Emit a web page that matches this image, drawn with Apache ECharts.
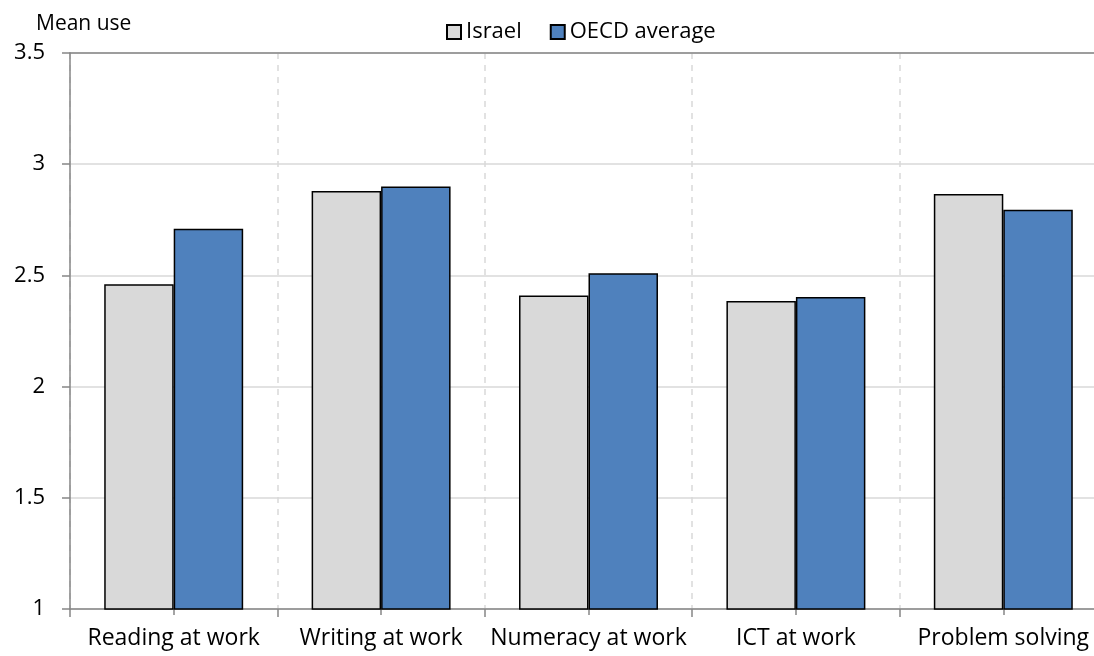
<!DOCTYPE html>
<html>
<head>
<meta charset="utf-8">
<script src="https://cdn.jsdelivr.net/npm/echarts@6/dist/echarts.min.js"></script>
<style>
html,body{margin:0;padding:0;background:#fff;overflow:hidden;}
#chart{width:1110px;height:656px;}
</style>
</head>
<body>
<div id="chart"></div>
<script>
var categories = ['Reading at work', 'Writing at work', 'Numeracy at work', 'ICT at work', 'Problem solving'];
var israel = [2.46, 2.88, 2.41, 2.385, 2.866];
var oecd = [2.71, 2.90, 2.51, 2.403, 2.795];
var yTicks = [1, 1.5, 2, 2.5, 3, 3.5];
var seriesNames = ['Israel', 'OECD average'];

var FONT = '"Open Sans", Lato, sans-serif';
var chart = echarts.init(document.getElementById('chart'), null, {renderer: 'canvas'});
chart.setOption({
  animation: false,
  textStyle: {fontFamily: FONT},
  title: {
    text: 'Mean use', left: 36, top: 14, padding: 0,
    textStyle: {fontFamily: FONT, fontSize: 21, fontWeight: 'normal', color: '#000'}
  },
  legend: {
    top: 21, left: 446, padding: 0,
    data: seriesNames,
    itemWidth: 14, itemHeight: 14, itemGap: 28,
    icon: 'rect',
    textStyle: {fontFamily: FONT, fontSize: 22, color: '#000'}
  },
  grid: {left: 70, right: 3, top: 53, bottom: 47, containLabel: false},
  xAxis: [
    {
      type: 'category', data: categories, position: 'bottom',
      axisLine: {show: true, lineStyle: {color: '#868686', width: 1.5}},
      axisTick: {show: true, interval: 0, length: 8, lineStyle: {color: '#868686', width: 1.5}},
      axisLabel: {interval: 0, fontFamily: FONT, fontSize: 23, color: '#000', margin: 18},
      splitLine: {show: true, interval: 0, lineStyle: {color: '#d9d9d9', type: [6, 6], width: 1.5}}
    },
    {
      type: 'category', data: categories, position: 'bottom',
      axisLine: {show: false},
      axisTick: {show: true, interval: 0, alignWithLabel: true, length: 6, lineStyle: {color: '#868686', width: 1.5}},
      axisLabel: {show: false},
      splitLine: {show: false}
    },
    {
      type: 'category', data: categories, position: 'top',
      axisLine: {show: true, lineStyle: {color: '#868686', width: 1.5}},
      axisTick: {show: false},
      axisLabel: {show: false},
      splitLine: {show: false}
    }
  ],
  yAxis: {
    type: 'value', min: yTicks[0], max: yTicks[yTicks.length - 1], interval: 0.5,
    axisLine: {show: true, lineStyle: {color: '#868686', width: 1.5}},
    axisTick: {show: true, length: 8, lineStyle: {color: '#868686', width: 1.5}},
    axisLabel: {fontFamily: FONT, fontSize: 22, color: '#000', margin: 25},
    splitLine: {show: true, lineStyle: {color: '#d9d9d9', width: 1.5}}
  },
  series: [
    {
      name: seriesNames[0], type: 'bar', data: israel,
      barGap: '0%', barCategoryGap: '33%',
      itemStyle: {color: '#d9d9d9', borderColor: '#000', borderWidth: 1.5}
    },
    {
      name: seriesNames[1], type: 'bar', data: oecd,
      barGap: '0%', barCategoryGap: '33%',
      itemStyle: {color: '#4f81bd', borderColor: '#000', borderWidth: 1.5}
    }
  ]
});
</script>
</body>
</html>
